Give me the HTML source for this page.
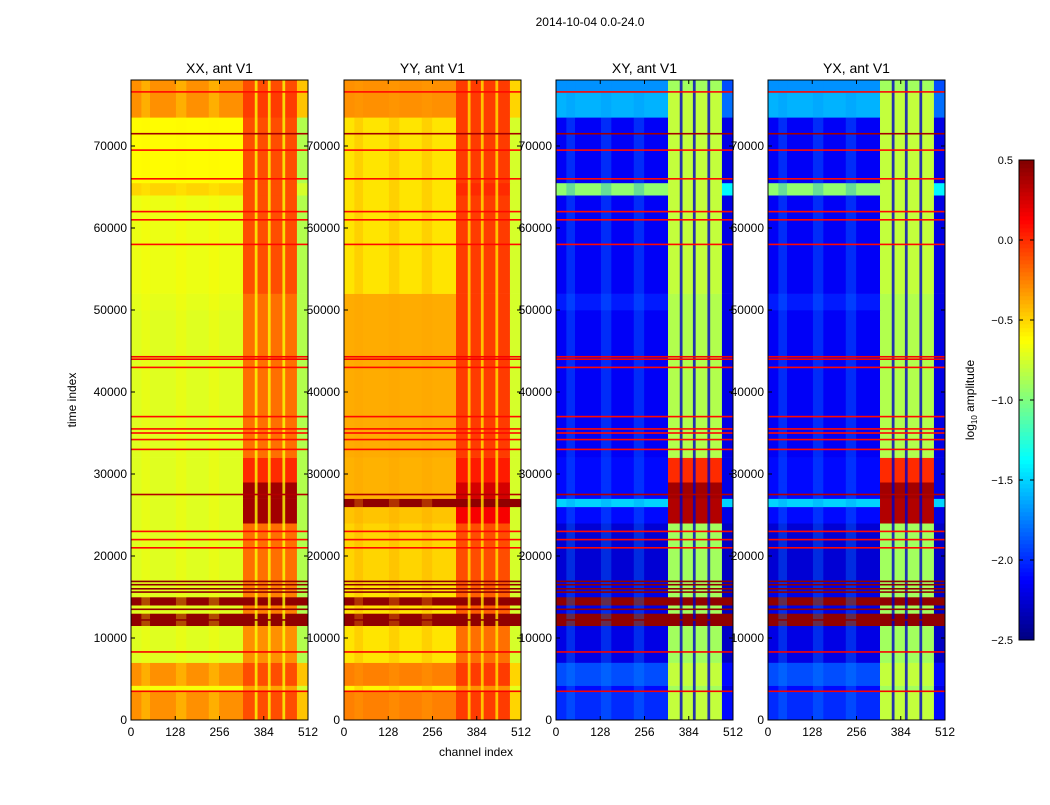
<!DOCTYPE html>
<html><head><meta charset="utf-8"><style>
body{margin:0;background:#fff;}
svg text{font-family:"Liberation Sans",sans-serif;}
</style></head><body>
<svg id="fig" width="1050" height="800" viewBox="0 0 1050 800" xmlns="http://www.w3.org/2000/svg">
<rect width="1050" height="800" fill="#fff"/>
<text x="590" y="26" font-size="12" text-anchor="middle">2014-10-04 0.0-24.0</text>
<text transform="translate(76,400) rotate(-90)" font-size="12" text-anchor="middle">time index</text>
<text x="476" y="756" font-size="12" text-anchor="middle">channel index</text>
<g id="panels"></g>
<g id="cbar"></g>
</svg>
<script>
// ---- data ----
const timeEdges=[0,3500,4200,7000,11500,13000,14000,15000,17000,24000,26000,27000,29000,32000,50000,52000,64000,65500,73500,76500,78050];
const chanEdges=[0,324,480,512];
const xxVals=[[-0.3,-0.1,-0.45],[-0.65,-0.35,-0.75],[-0.3,-0.1,-0.45],[-0.72,-0.3,-0.85],[0.45,0.45,0.45],[-0.72,-0.25,-0.85],[0.45,0.45,0.45],[-0.72,-0.25,-0.85],[-0.72,-0.2,-0.85],[-0.72,0.4,-0.85],[-0.72,0.4,-0.85],[-0.72,0.4,-0.85],[-0.72,0.0,-0.85],[-0.72,-0.2,-0.85],[-0.7,-0.2,-0.85],[-0.68,-0.1,-0.85],[-0.5,-0.1,-0.75],[-0.62,-0.1,-0.85],[-0.3,-0.05,-0.45],[-0.3,-0.1,-0.45]];
const yyVals=[[-0.25,-0.05,-0.5],[-0.6,-0.3,-0.7],[-0.25,-0.05,-0.5],[-0.55,-0.2,-0.75],[0.45,0.45,0.45],[-0.55,-0.15,-0.75],[0.45,0.45,0.45],[-0.55,-0.15,-0.75],[-0.5,-0.1,-0.75],[-0.45,0.15,-0.75],[0.45,0.45,0.45],[-0.4,0.25,-0.75],[-0.4,0.05,-0.75],[-0.38,-0.05,-0.75],[-0.38,-0.05,-0.75],[-0.55,-0.05,-0.75],[-0.55,0.0,-0.75],[-0.55,-0.05,-0.75],[-0.3,-0.05,-0.5],[-0.3,-0.05,-0.5]];
const xyVals=[[-2.0,-0.8,-2.1],[-2.1,-0.9,-2.2],[-1.9,-0.8,-2.1],[-2.2,-0.9,-2.3],[0.45,0.45,0.45],[-2.2,-0.9,-2.3],[0.45,0.45,0.45],[-2.2,-0.9,-2.3],[-2.25,-0.9,-2.3],[-2.1,0.35,-2.2],[-1.5,0.35,-1.5],[-2.1,0.4,-2.2],[-2.1,0.0,-2.2],[-2.15,-0.85,-2.2],[-2.05,-0.85,-2.2],[-2.15,-0.8,-2.2],[-0.95,-0.8,-1.4],[-2.15,-0.8,-2.2],[-1.6,-0.8,-1.8],[-1.7,-0.9,-1.9]];
const yxVals=[[-2.0,-0.8,-2.1],[-2.1,-0.9,-2.2],[-1.9,-0.8,-2.1],[-2.2,-0.9,-2.3],[0.45,0.45,0.45],[-2.2,-0.9,-2.3],[0.45,0.45,0.45],[-2.2,-0.9,-2.3],[-2.25,-0.9,-2.3],[-2.1,0.35,-2.2],[-1.5,0.35,-1.5],[-2.1,0.4,-2.2],[-2.1,0.0,-2.2],[-2.15,-0.85,-2.2],[-2.05,-0.85,-2.2],[-2.15,-0.8,-2.2],[-0.95,-0.8,-1.4],[-2.15,-0.8,-2.2],[-1.6,-0.8,-1.8],[-1.7,-0.9,-1.9]];
const stripeChans=[[358,366],[396,404],[438,446]];
const stripeVals=[-0.65,-0.55,-2.3,-2.3];
const lightBandChans=[[30,55],[130,160],[225,255]];
const lightBandVals=[-0.6,-0.35,-1.7,-1.7];
const hLineTimes=[3500,8300,21000,22000,23000,27500,33000,34200,35000,35500,37000,43000,44000,44300,58000,61000,62000,66000,69500,71500,76600];
const hLineVals=[0.15,0.15,0.1,0.1,0.1,0.35,0.1,0.1,0.1,0.1,0.1,0.1,0.15,0.15,0.1,0.1,0.1,0.1,0.1,0.4,0.1];
const darkLineTimes=[15600,16000,16500,16900,13500,12200];
const titles=["XX, ant V1","YY, ant V1","XY, ant V1","YX, ant V1"];
const panelVals=[xxVals,yyVals,xyVals,yxVals];
const xTicks=[0,128,256,384,512];
const yTicks=[0,10000,20000,30000,40000,50000,60000,70000];
const cbTicks=[0.5,0.0,-0.5,-1.0,-1.5,-2.0,-2.5];
const cbLabels=["0.5","0.0","\u22120.5","\u22121.0","\u22121.5","\u22122.0","\u22122.5"];
// ---- layout ----
const NS="http://www.w3.org/2000/svg";
const panelX=[131,344,556,768], pw=177, topY=80, botY=720;
const vmin=-2.5,vmax=0.5,tmax=78050;
function jet(v){let t=Math.max(0,Math.min(1,(v-vmin)/(vmax-vmin)));
 const f=(x)=>Math.max(0,Math.min(1,1.5-Math.abs(4*t-x)));
 const r=f(3),g=f(2),b=f(1);return `rgb(${Math.round(r*255)},${Math.round(g*255)},${Math.round(b*255)})`;}
function mk(tag,attrs,parent){const e=document.createElementNS(NS,tag);for(const k in attrs)e.setAttribute(k,attrs[k]);parent.appendChild(e);return e;}
const panels=document.getElementById('panels');
panelX.forEach((px,p)=>{
 const sx=c=>px+c/512*pw, sy=t=>botY-t/tmax*(botY-topY);
 const g=mk('g',{},panels);
 
 
 const vals=panelVals[p];
 for(let r=0;r<timeEdges.length-1;r++)for(let c=0;c<chanEdges.length-1;c++){
  const y0=sy(timeEdges[r+1]),y1=sy(timeEdges[r]);
  const e=mk('rect',{x:sx(chanEdges[c]),y:y0,width:sx(chanEdges[c+1])-sx(chanEdges[c])+0.3,height:y1-y0+0.3,fill:jet(vals[r][c])},g);
  
  
 }
 lightBandChans.forEach(b=>{const e=mk('rect',{x:sx(b[0]),y:topY,width:sx(b[1])-sx(b[0]),height:botY-topY,fill:jet(lightBandVals[p]),opacity:0.3},g);
  
  });
 stripeChans.forEach(b=>{const e=mk('rect',{x:sx(b[0]),y:topY,width:sx(b[1])-sx(b[0]),height:botY-topY,fill:jet(stripeVals[p]),opacity:0.8},g);
  
  });
 hLineTimes.forEach((t,i)=>{const e=mk('rect',{x:px,y:sy(t)-0.8,width:pw,height:1.6,fill:jet(hLineVals[i])},g);
  
  });
 darkLineTimes.forEach(t=>{const e=mk('rect',{x:px,y:sy(t)-0.8,width:pw,height:1.6,fill:jet(0.45)},g);
  
  });
 const fr=mk('rect',{x:px,y:topY,width:pw,height:botY-topY,fill:'none',stroke:'#000','stroke-width':1},g);
 
 
 const tt=mk('text',{x:px+pw/2,y:73,'font-size':14,'text-anchor':'middle'},g);tt.textContent=titles[p];
 
 
 xTicks.forEach(v=>{const x=sx(v);
  mk('line',{x1:x,x2:x,y1:botY,y2:botY-4,stroke:'#000'},g);mk('line',{x1:x,x2:x,y1:topY,y2:topY+4,stroke:'#000'},g);
  const t=mk('text',{x:x,y:736,'font-size':12,'text-anchor':'middle'},g);t.textContent=v;
  
  });
 yTicks.forEach(v=>{const y=sy(v);
  mk('line',{x1:px,x2:px+4,y1:y,y2:y,stroke:'#000'},g);mk('line',{x1:px+pw,x2:px+pw-4,y1:y,y2:y,stroke:'#000'},g);
  const t=mk('text',{x:px-4,y:y+4,'font-size':12,'text-anchor':'end'},g);t.textContent=v;
  
  });
});
// colorbar
const cb=document.getElementById('cbar');
const cx=1019,cw=15,ct=160,cbt=640;
const cy=v=>cbt-(v-vmin)/(vmax-vmin)*(cbt-ct);
for(let i=0;i<120;i++){const v0=vmin+i*(vmax-vmin)/120,v1=vmin+(i+1)*(vmax-vmin)/120;
 const e=mk('rect',{x:cx,y:cy(v1),width:cw,height:cy(v0)-cy(v1)+0.3,fill:jet((v0+v1)/2)},cb);
 
 }
const cf=mk('rect',{x:cx,y:ct,width:cw,height:cbt-ct,fill:'none',stroke:'#000'},cb);


cbTicks.forEach((v,i)=>{const y=cy(v);
 mk('line',{x1:cx,x2:cx+4,y1:y,y2:y,stroke:'#000'},cb);mk('line',{x1:cx+cw,x2:cx+cw-4,y1:y,y2:y,stroke:'#000'},cb);
 const t=mk('text',{x:1013,y:y+4,'font-size':11,'text-anchor':'end'},cb);t.textContent=cbLabels[i];
 
 });
const cl=mk('text',{transform:'translate(974,400) rotate(-90)','font-size':12,'text-anchor':'middle'},cb);
cl.innerHTML='log<tspan font-size="8" dy="3">10</tspan><tspan dy="-3"> amplitude</tspan>';


</script>
</body></html>
